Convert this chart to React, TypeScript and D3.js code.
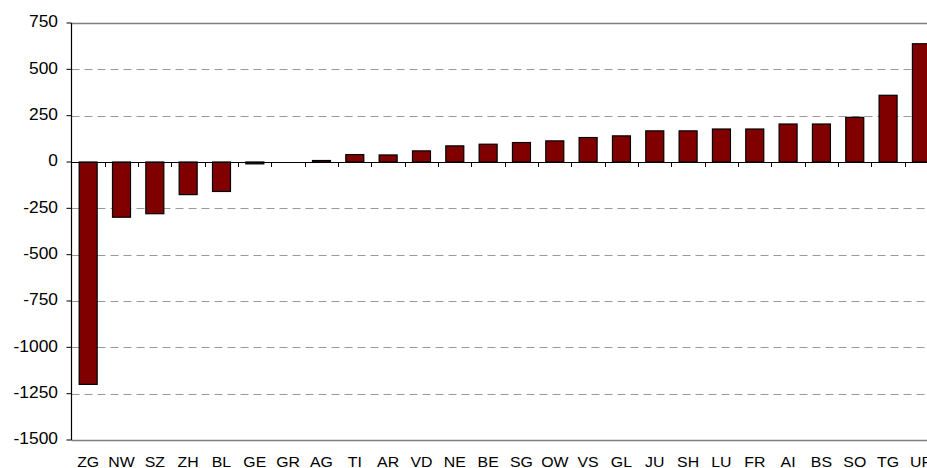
import * as d3 from 'd3';
import React from 'react';

const cantons = [
  'ZG', 'NW', 'SZ', 'ZH', 'BL', 'GE', 'GR', 'AG', 'TI', 'AR', 'VD', 'NE', 'BE',
  'SG', 'OW', 'VS', 'GL', 'JU', 'SH', 'LU', 'FR', 'AI', 'BS', 'SO', 'TG', 'UR',
];
const values = [
  -1200, -298, -279, -176, -159, -10, 0, 8, 40, 38, 60, 87, 96,
  105, 114, 132, 141, 168, 168, 178, 178, 205, 205, 241, 360, 638,
];
const yTicks = [750, 500, 250, 0, -250, -500, -750, -1000, -1250, -1500];

export default function App() {
  const width = 927;
  const height = 468;
  const left = 71.5;
  const top = 23;
  const bottom = 440;
  const step = 33.33;

  const x = d3
    .scaleBand<string>()
    .domain(cantons)
    .range([left, left + step * cantons.length])
    .paddingInner(0.46)
    .paddingOuter(0.23);
  const y = d3.scaleLinear().domain([-1500, 750]).range([bottom, top]);
  const right = left + step * cantons.length;
  const font = '"Liberation Sans", Arial, sans-serif';

  return (
    <svg
      width={width}
      height={height}
      style={{ position: 'absolute', left: 0, top: 0, background: '#fff' }}
    >
      {/* gridlines */}
      {yTicks.map(t => {
        const yy = Math.round(y(t)) + 0.5;
        const border = t === 750 || t === -1500;
        if (t === 0) return null;
        return (
          <line
            key={t}
            x1={left}
            x2={right}
            y1={yy}
            y2={yy}
            stroke={border ? '#808080' : '#9a9a9a'}
            strokeWidth={border ? 1.5 : 1}
            strokeDasharray={border ? undefined : '8,5'}
          />
        );
      })}

      {/* bars */}
      {cantons.map((c, i) => {
        const v = values[i];
        if (v === 0) return null;
        const y0 = y(Math.max(0, v));
        const y1 = y(Math.min(0, v));
        return (
          <rect
            key={c}
            x={x(c)!}
            y={y0}
            width={x.bandwidth()}
            height={Math.max(1.5, y1 - y0)}
            fill="#800000"
            stroke="#000"
            strokeWidth={1.2}
          />
        );
      })}

      {/* zero axis with category ticks */}
      <line
        x1={left}
        x2={right}
        y1={Math.round(y(0)) + 0.5}
        y2={Math.round(y(0)) + 0.5}
        stroke="#000"
        strokeWidth={1.2}
      />
      {cantons.map((c, i) => {
        const tx = Math.round(left + step * (i + 1)) + 0.5;
        return (
          <line
            key={'t' + c}
            x1={tx}
            x2={tx}
            y1={y(0)}
            y2={y(0) + 5}
            stroke="#000"
          />
        );
      })}

      {/* y axis */}
      <line x1={left} x2={left} y1={top} y2={bottom} stroke="#000" strokeWidth={1.2} />
      {yTicks.map(t => (
        <g key={'y' + t}>
          <line x1={left - 5} x2={left} y1={y(t)} y2={y(t)} stroke="#000" />
          <text
            transform={`translate(58,${y(t)}) scale(1.1,1)`}
            textAnchor="end"
            dominantBaseline="middle"
            fontFamily={font}
            fontSize={15.8}
            fill="#000"
          >
            {t}
          </text>
        </g>
      ))}

      {/* category labels */}
      {cantons.map(c => (
        <text
          key={'l' + c}
          transform={`translate(${x(c)! + x.bandwidth() / 2},466.5) scale(1.15,1)`}
          textAnchor="middle"
          fontFamily={font}
          fontSize={13.8}
          fill="#000"
        >
          {c}
        </text>
      ))}
    </svg>
  );
}
